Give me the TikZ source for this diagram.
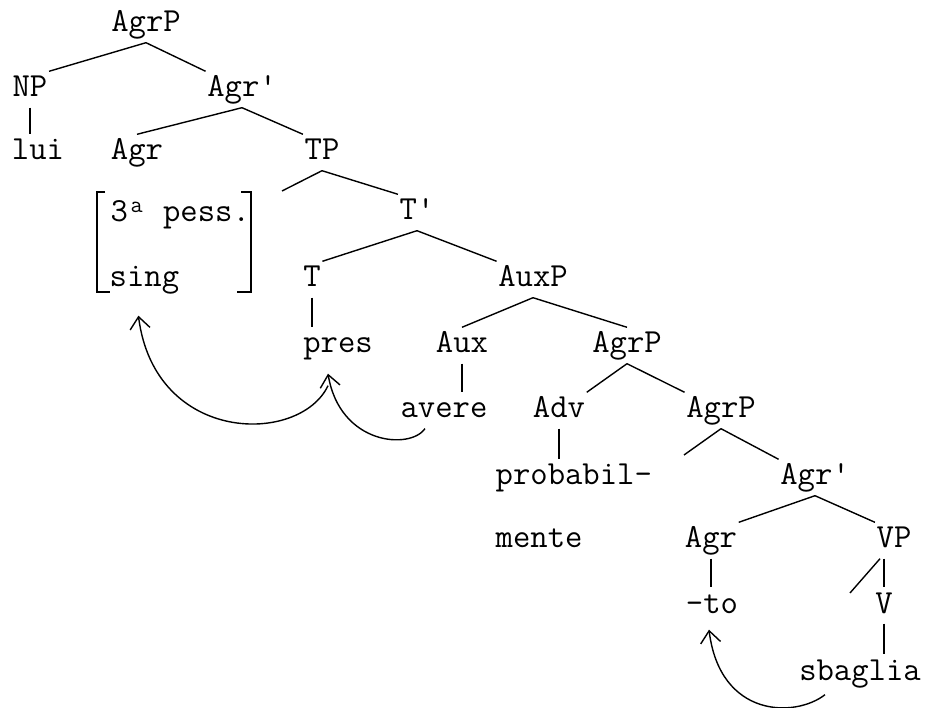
\documentclass[tikz,border=0pt]{standalone}
\usepackage{fontspec}
\usetikzlibrary{positioning, calc, arrows.meta}

\begin{document}
\begin{tikzpicture}[x=1pt, y=-1pt, line width=1.4pt]
	\tikzstyle{cat}=[anchor=base, inner xsep=1pt, inner ysep=5pt, text height=20pt, text depth=5pt, font=\ttfamily\fontsize{33.7}{40}\selectfont]
	\tikzstyle{feat}=[cat, anchor=base west]
	\tikzstyle{movearr}=[-{Straight Barb[length=12pt,width=20pt]}]
	
	\useasboundingbox (0,0) rectangle (930,708);
	
	\node (AgrPa) at (146,32) [cat] {AgrP};
	\node (NPa) at (30,97) [cat] {NP};
	\node (Agrba) at (242,97) [cat] {Agr\textquotesingle};
	
	\draw (AgrPa.south) -- (NPa.north east);
	\draw (AgrPa.south) -- (Agrba.north west);
	
	\node (lui) at (38,160) [cat] {lui};
	\node (Agra) at (137,160) [cat] {Agr};
	\node (TP) at (322,160) [cat] {TP};
	
	\draw (NPa.south) -- (NPa.south |- lui.north);
	\draw (Agrba.south) -- (Agra.north);
	\draw (Agrba.south) -- (TP.north west);
	
	\node (pers) at (109,222) [feat] {3\makebox[0.525em]{\textsuperscript{a}} pess.};
	\node (num) at (108,287) [feat] {sing};
	\draw (105,192) -- (97,192) -- (97,292) -- (110,292);
	\draw (241,192) -- (251,192) -- (251,292) -- (237,292);
	
	\node (Tb) at (417,220) [cat] {T\textquotesingle};
	\coordinate (e1) at (282,191);
	
	\draw (TP.south) -- (e1);
	\draw (TP.south) -- (Tb.north west);
	
	\node (T) at (312,287) [cat] {T};
	\node (AuxP) at (533,287) [cat] {AuxP};
	
	\draw (Tb.south) -- (T.north east);
	\draw (Tb.south) -- (AuxP.north west);
	
	\node (pres) at (338,353) [cat] {pres};
	\node (Aux) at (462,353) [cat] {Aux};
	\node (AgrPb) at (627,353) [cat] {AgrP};
	
	\draw (T.south) -- (T.south |- pres.north);
	\draw (AuxP.south) -- (Aux.north);
	\draw (AuxP.south) -- (AgrPb.north);
	
	\node (avere) at (444,418) [cat] {avere};
	\node (Adv) at (559,418) [cat] {Adv};
	\node (AgrPc) at (721,418) [cat] {AgrP};
	
	\draw (Aux.south) -- (Aux.south |- avere.north);
	\draw (AgrPb.south) -- (Adv.north east);
	\draw (AgrPb.south) -- (AgrPc.north west);
	
	\node (adva) at (494,485) [feat] {probabil-};
	\node (Agrbb) at (815,485) [cat] {Agr\textquotesingle};
	\coordinate (e2) at (684,455);
	
	\draw (Adv.south) -- (Adv.south |- adva.north);
	\draw (AgrPc.south) -- (e2);
	\draw (AgrPc.south) -- (Agrbb.north west);
	
	\node (advb) at (494,548) [feat] {mente};
	\node (Agrb) at (711,548) [cat] {Agr};
	\node (VP) at (894,548) [cat] {VP};
	
	\draw (Agrbb.south) -- (Agrb.north east);
	\draw (Agrbb.south) -- (VP.north west);
	
	\node (to) at (712,613) [cat] {-to};
	\node (V) at (884,613) [cat] {V};
	\coordinate (e3) at (850,593);
	
	\draw (Agrb.south) -- (Agrb.south |- to.north);
	\draw ([xshift=-4pt]V.north |- VP.south) -- (e3);
	\draw (V.north |- VP.south) -- (V.north);
	
	\node (sbaglia) at (860,680) [cat] {sbaglia};
	
	\draw (V.south) -- (V.south |- sbaglia.north);
	
	% movements
	\draw[movearr] ([xshift=-19pt]avere.south) .. controls (410,450) and (340,445) .. ([xshift=-10pt,yshift=-10pt]pres.south);
	\draw[movearr] ([xshift=-10pt,yshift=-22pt]pres.south) .. controls (300,445) and (155,445) .. ([xshift=-6pt,yshift=-18pt]num.south);
	\draw[movearr] ([xshift=-35pt,yshift=-4pt]sbaglia.south) .. controls (795,718) and (720,718) .. ([xshift=-3pt,yshift=-6pt]to.south);
\end{tikzpicture}
\end{document}
